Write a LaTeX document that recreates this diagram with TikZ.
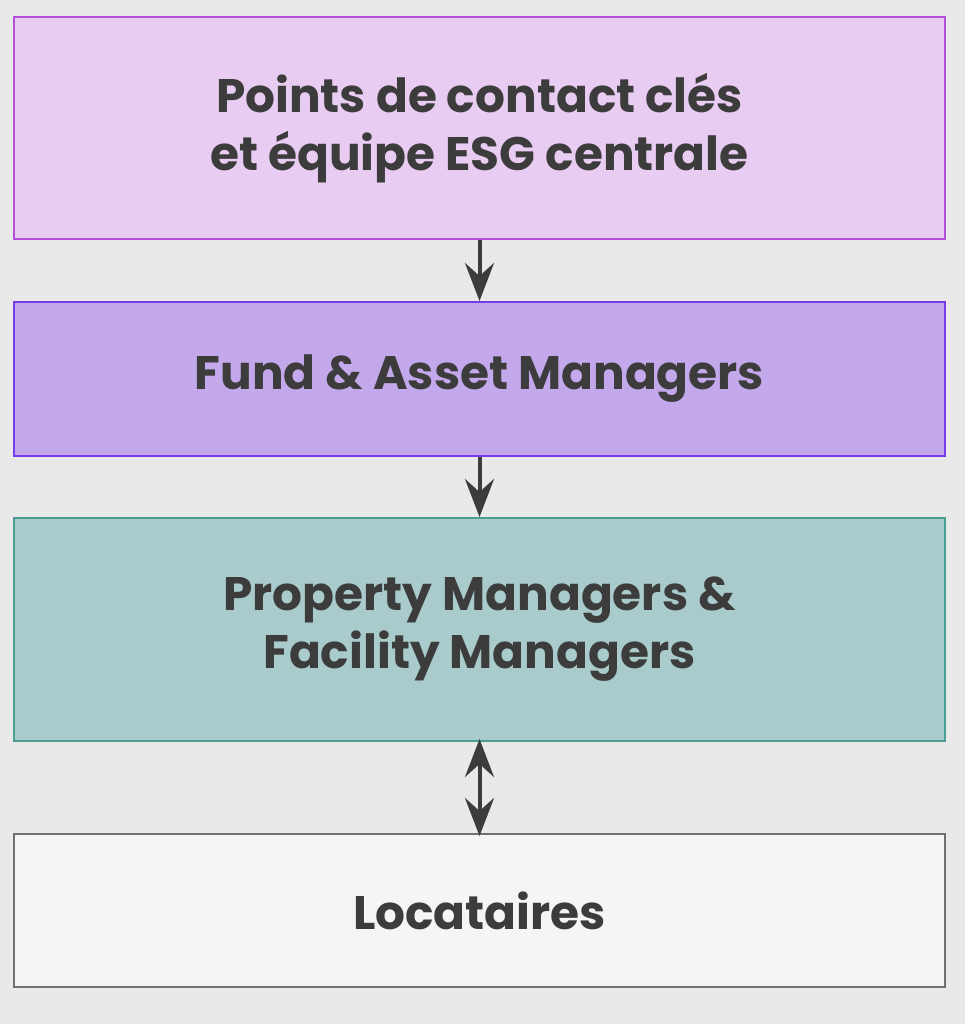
\documentclass[tikz,border=0pt]{standalone}
\usepackage{fontspec}
\setmainfont{Poppins}
\usetikzlibrary{arrows.meta}
\definecolor{bg}{HTML}{E9E9E9}
\definecolor{fa}{HTML}{E9CCF1}\definecolor{da}{HTML}{B44FD6}
\definecolor{fb}{HTML}{C4A8EC}\definecolor{db}{HTML}{7A3CEB}
\definecolor{fc}{HTML}{A9CBCB}\definecolor{dc}{HTML}{4A9E94}
\definecolor{fd}{HTML}{F5F5F5}\definecolor{dd}{HTML}{707070}
\definecolor{txt}{HTML}{3C3C3C}
\tikzset{tip/.tip={Stealth[length=38pt,width=29pt,inset=13pt]}}
\begin{document}
\begin{tikzpicture}[x=1pt,y=-1pt,
  box/.style={draw, line width=2pt, minimum width=931pt, inner sep=0pt, anchor=north west,
    align=center, text=txt, font=\fontsize{47}{58}\selectfont\bfseries},
  conn/.style={draw=txt, line width=4pt, -tip},
  conn2/.style={draw=txt, line width=4pt, tip-tip}]
\fill[bg] (0,0) rectangle (965,1024);
\useasboundingbox (0,0) rectangle (965,1024);
\node[box, fill=fa, draw=da, minimum height=222pt] (a) at (13,16) {Points de contact clés\\et équipe ESG centrale};
\node[box, fill=fb, draw=db, minimum height=154pt] (b) at (13,301) {Fund \& Asset Managers};
\node[box, fill=fc, draw=dc, minimum height=223pt] (c) at (13,517) {Property Managers \&\\Facility Managers};
\node[box, fill=fd, draw=dd, minimum height=153pt] (d) at (13,833) {Locataires};
\draw[conn] (a.south) -- (b.north);
\draw[conn] (b.south) -- (c.north);
\draw[conn2] ([yshift=3pt]c.south) -- ([yshift=-3pt]d.north);
\end{tikzpicture}
\end{document}
